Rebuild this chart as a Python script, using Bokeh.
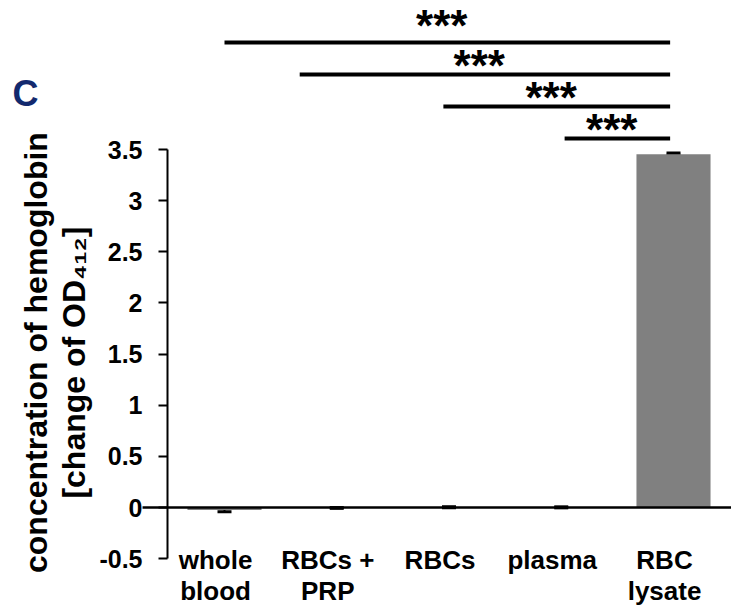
from bokeh.plotting import figure
from bokeh.models import (ColumnDataSource, FixedTicker, NumeralTickFormatter,
                          Whisker, TeeHead, Label)
from bokeh.core.properties import value
from bokeh.embed import file_html
from bokeh.resources import INLINE

# ---- data ----
categories = ["whole\nblood", "RBCs +\nPRP", "RBCs", "plasma", "RBC\nlysate"]
means = [-0.025, -0.004, 0.003, 0.002, 3.455]
errors = [0.015, 0.004, 0.005, 0.005, 0.010]
y_ticks = [-0.5, 0, 0.5, 1, 1.5, 2, 2.5, 3, 3.5]
sig_labels = ["***", "***", "***", "***"]
sig_from = [0, 0.67, 1.95, 3.03]     # bracket start (category position)
sig_to = [3.97, 3.97, 3.97, 3.97]    # bracket end (RBC lysate)

FONT = "Liberation Sans"
X0, X1 = -1.9955, 4.5167
Y0, Y1 = -0.987, 4.957

xs = list(range(len(categories)))
src = ColumnDataSource(dict(
    x=xs, mean=means,
    lower=[m - e for m, e in zip(means, errors)],
    upper=[m + e for m, e in zip(means, errors)],
))

p = figure(width=731, height=608, x_range=(X0, X1), y_range=(Y0, Y1),
           output_backend="svg", toolbar_location=None,
           min_border_left=0, min_border_right=0, min_border_top=0,
           min_border_bottom=0)
p.outline_line_color = None
p.grid.visible = False
p.background_fill_color = "white"
p.border_fill_color = "white"

# bars
p.vbar(x="x", top="mean", bottom=0, width=0.66, source=src,
       fill_color="#808080", line_color=None)

# zero line (horizontal axis line, extends a little left of the y axis)
p.segment(x0=[-0.73], y0=[0], x1=[X1], y1=[0], line_color="black", line_width=2.5)

# error bars
p.add_layout(Whisker(base="x", lower="lower", upper="upper", source=src,
                     line_color="black", line_width=2,
                     upper_head=TeeHead(size=14, line_width=3, line_color="black"),
                     lower_head=TeeHead(size=14, line_width=3, line_color="black")))

# significance brackets
top_val = max(m + e for m, e in zip(means, errors))
levels = [top_val + 0.142 + 0.3128 * k for k in range(len(sig_labels))][::-1]
p.segment(x0=sig_from, y0=levels, x1=sig_to, y1=levels,
          line_color="black", line_width=4)
star_x = [(a + b) / 2 - 0.05 for a, b in zip(sig_from, sig_to)]
star_gap = [0.17, 0.093, 0.093, 0.093]
p.text(x=star_x, y=[l + g for l, g in zip(levels, star_gap)], text=sig_labels,
       text_font=value(FONT), text_font_style="bold", text_font_size="44px",
       text_align="center", text_baseline="alphabetic", text_color="black")

# y axis
ya = p.yaxis[0]
ya.fixed_location = -0.5078
ya.ticker = FixedTicker(ticks=y_ticks)
ya.formatter = NumeralTickFormatter(format="0.[0]")
ya.bounds = (-0.5, 3.5)
ya.axis_line_width = 2
ya.axis_line_color = "black"
ya.major_tick_line_width = 2
ya.major_tick_line_color = "black"
ya.major_tick_out = 9
ya.major_tick_in = 0
ya.minor_tick_line_color = None
ya.major_label_standoff = 16
ya.major_label_text_font = FONT
ya.major_label_text_font_style = "bold"
ya.major_label_text_font_size = "25px"
ya.major_label_text_color = "black"

# x axis (labels sit slightly left of bar centres, as in the reference)
tick_pos = [i - 0.08 for i in xs]
xa = p.xaxis[0]
xa.fixed_location = -0.5
xa.ticker = FixedTicker(ticks=tick_pos)
xa.major_label_overrides = {t: c for t, c in zip(tick_pos, categories)}
xa.axis_line_color = None
xa.major_tick_line_color = None
xa.minor_tick_line_color = None
xa.major_tick_out = 0
xa.major_tick_in = 0
xa.major_label_standoff = -14
xa.major_label_text_font = FONT
xa.major_label_text_font_style = "bold"
xa.major_label_text_font_size = "26px"
xa.major_label_text_line_height = 1.04
xa.major_label_text_color = "black"

# y axis title (two lines)
p.add_layout(Label(x=-1.675, y=1.515, text="concentration of hemoglobin",
                   angle=90, angle_units="deg", text_align="center",
                   text_baseline="middle", text_font=FONT, text_font_style="bold",
                   text_font_size="32px", text_color="black"))
p.add_layout(Label(x=-1.345, y=1.417, text="[change of OD\u2084\u2081\u2082]",
                   angle=90, angle_units="deg", text_align="center",
                   text_baseline="middle", text_font=FONT, text_font_style="bold",
                   text_font_size="32px", text_color="black"))

# panel letter
p.add_layout(Label(x=-1.889, y=4.05, text="C", text_align="left",
                   text_baseline="alphabetic", text_font=FONT, text_font_style="bold",
                   text_font_size="36px", text_color="#12296E"))

open("out.html", "w").write(file_html(p, INLINE))
